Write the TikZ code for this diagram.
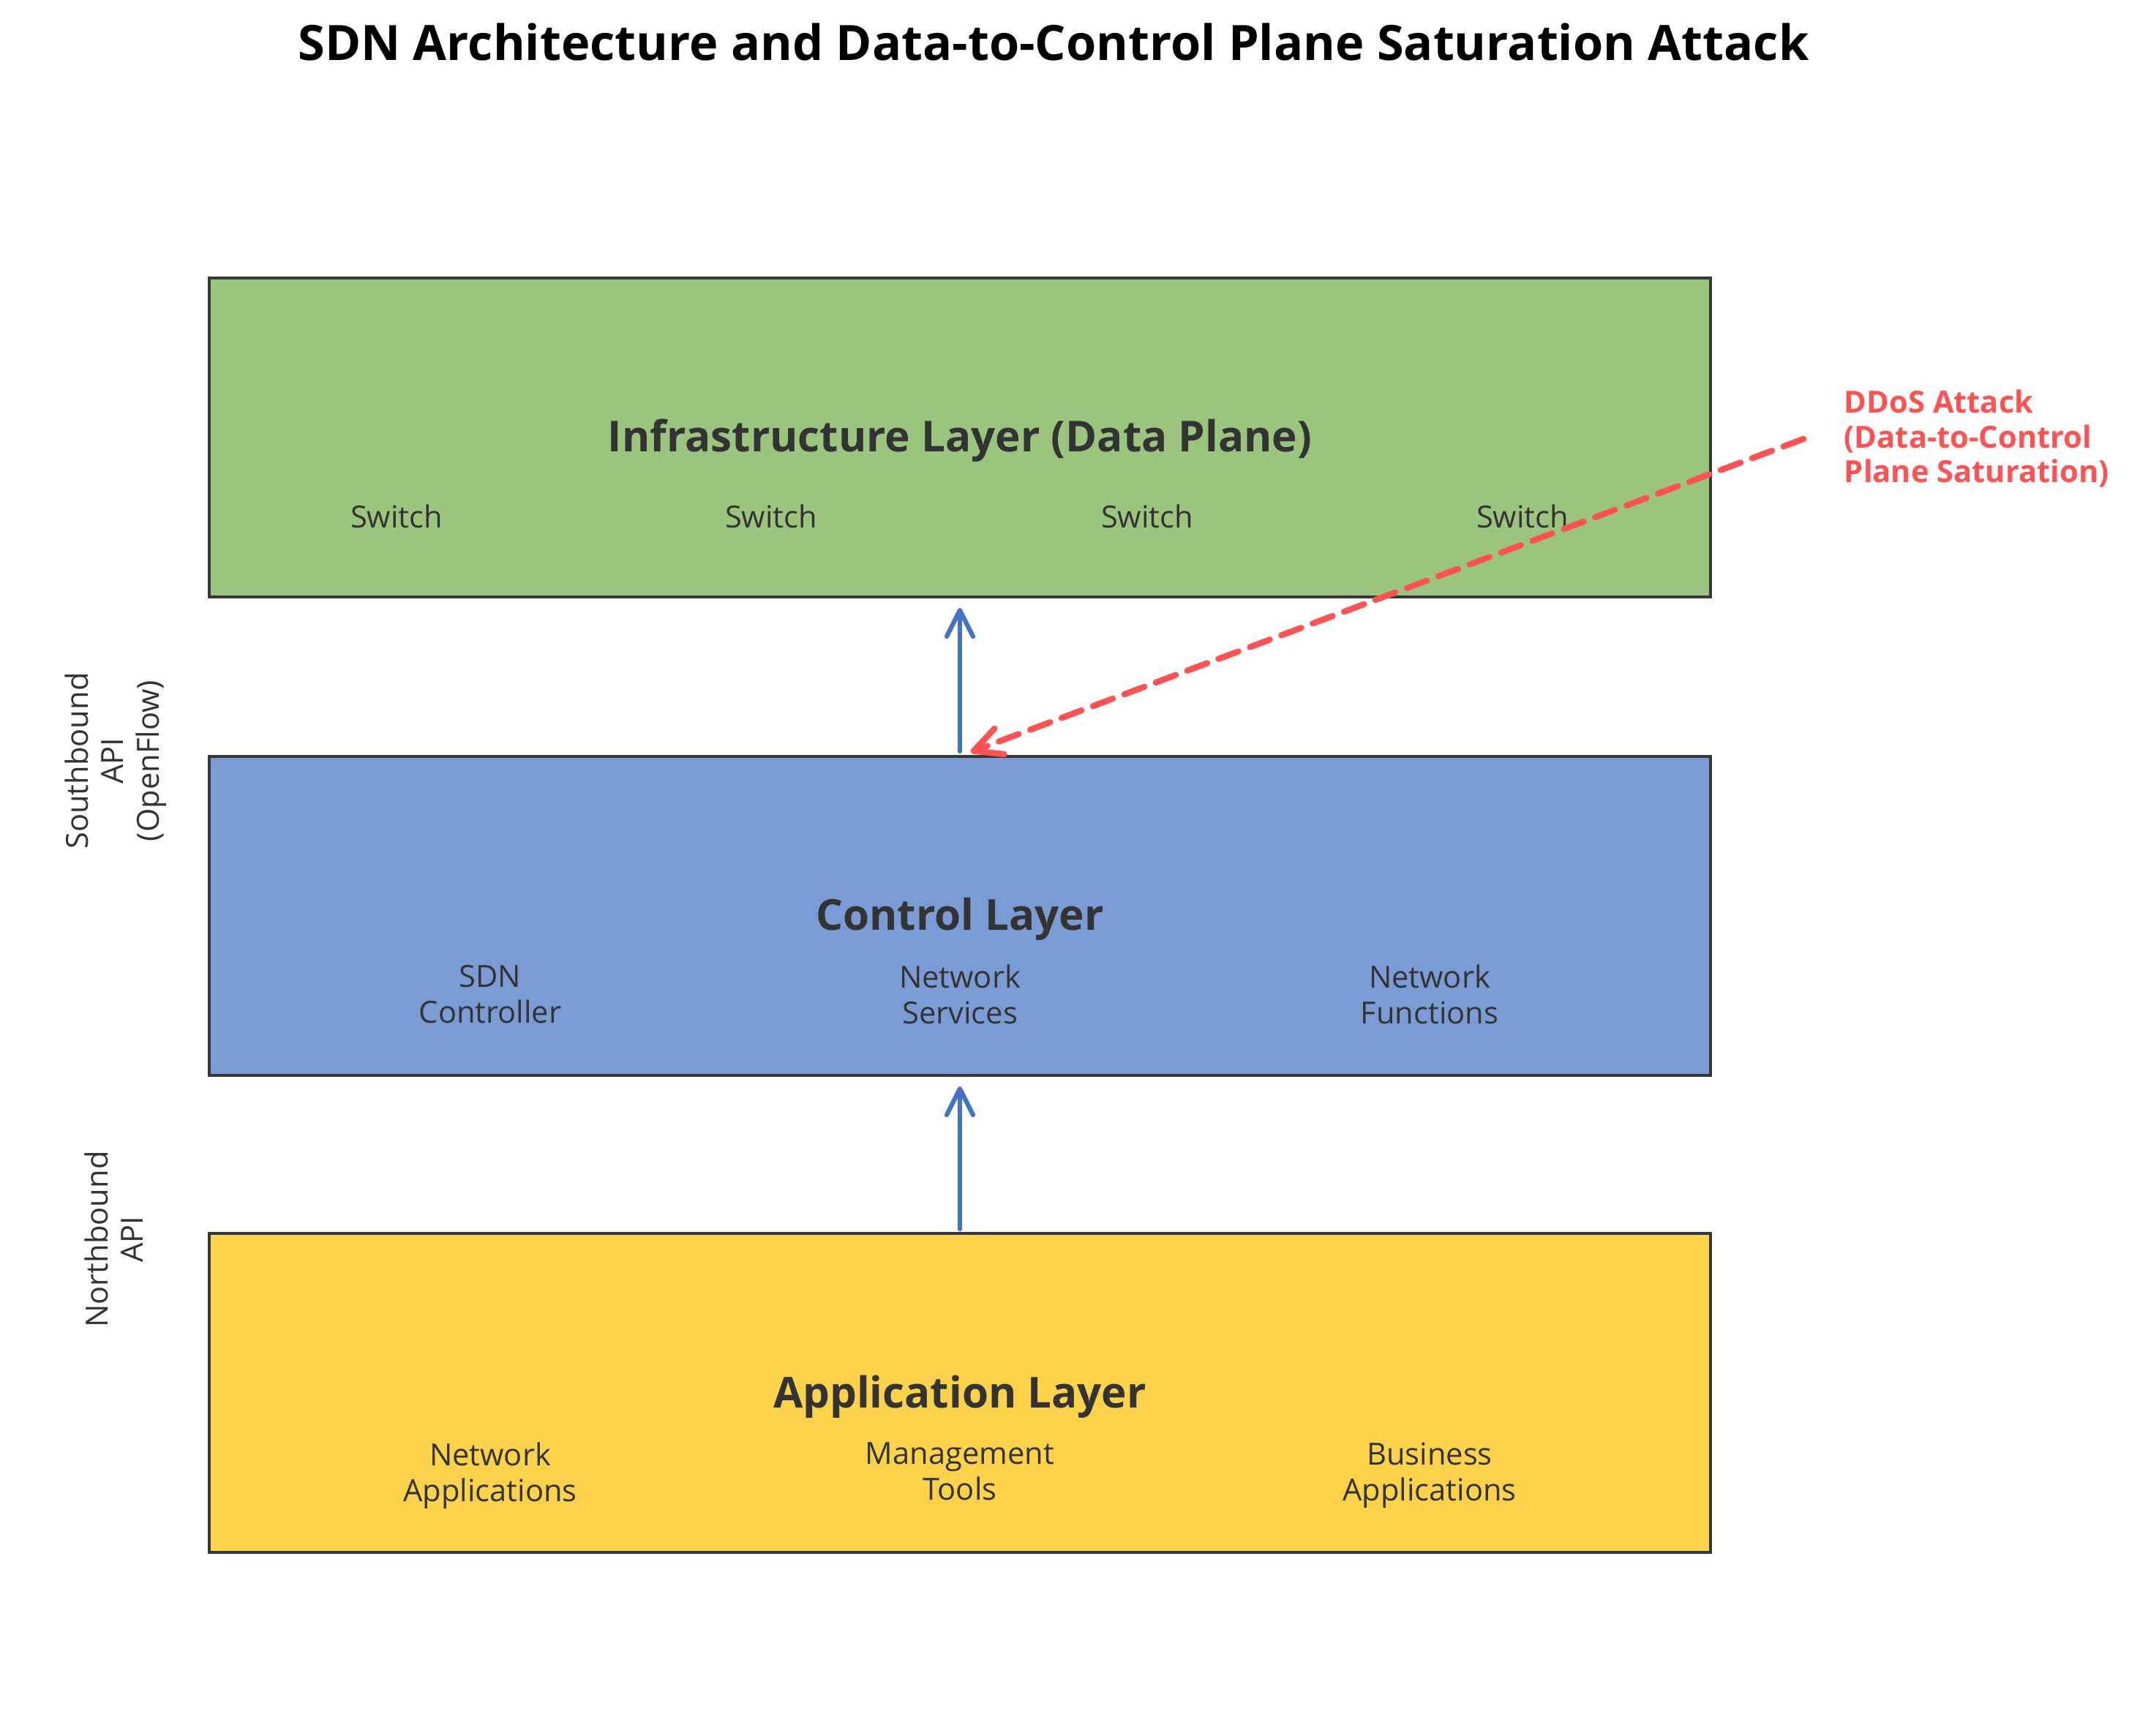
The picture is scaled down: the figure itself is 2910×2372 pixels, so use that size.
\documentclass[tikz,border=0pt]{standalone}
\usepackage{fontspec}
\IfFontExistsTF{Noto Sans Bold}
  {\setmainfont{Noto Sans}[BoldFont={Noto Sans Bold}]}
  {\setmainfont{Open Sans}}
\usetikzlibrary{arrows.meta}
\definecolor{infrafill}{HTML}{9BC57E}
\definecolor{ctrlfill}{HTML}{7B9BD4}
\definecolor{appfill}{HTML}{FDD24B}
\definecolor{boxline}{HTML}{383838}
\definecolor{txtdark}{HTML}{333333}
\definecolor{flowblue}{HTML}{4472C4}
\definecolor{attackred}{HTML}{FF5252}
\tikzset{
  layerbox/.style={draw=boxline, line width=1pt, minimum width=492.48pt, minimum height=104.64pt, inner sep=0pt, outer sep=0pt},
  layertitle/.style={anchor=base, inner sep=0pt, text=txtdark, font=\fontsize{14}{16.8}\selectfont\bfseries},
  item/.style={inner sep=0pt, text=txtdark, align=center, font=\fontsize{10}{11.8}\selectfont},
  sideitem/.style={inner sep=0pt, text=txtdark, align=center, rotate=90, font=\fontsize{10}{11.6}\selectfont},
  flow/.style={draw=flowblue, line width=1.5pt, line cap=round, -{Straight Barb[length=8.6pt, width=8.6pt, round]}},
  attack/.style={draw=attackred, line width=2pt, line cap=round, dash pattern=on 7pt off 4pt, -{Straight Barb[length=9pt, width=9pt, round]}},
}
\begin{document}
\begin{tikzpicture}[x=0.24pt, y=-0.24pt]
\useasboundingbox (0,0) rectangle (2910,2372);
% title
\node[anchor=base, inner sep=0pt, font=\fontsize{16}{19}\selectfont\bfseries] (title) at (1440,82) {SDN Architecture and Data-to-Control Plane Saturation Attack};
% layer boxes
\node[layerbox, fill=infrafill] (infra) at (1312,598) {};
\node[layerbox, fill=ctrlfill] (ctrl) at (1312,1252) {};
\node[layerbox, fill=appfill] (app) at (1312,1904) {};
% layer titles
\node[layertitle] (infratitle) at (1312,617) {Infrastructure Layer (Data Plane)};
\node[layertitle] (ctrltitle) at (1312,1271) {Control Layer};
\node[layertitle] (apptitle) at (1312,1924) {Application Layer};
% switches
\node[item, anchor=base] (sw1) at (542,721) {Switch};
\node[item, anchor=base] (sw2) at (1054,721) {Switch};
\node[item, anchor=base] (sw3) at (1568,721) {Switch};
\node[item, anchor=base] (sw4) at (2081,721) {Switch};
% control items
\node[item] (c1) at (670,1359) {SDN\\Controller};
\node[item] (c2) at (1312,1359) {Network\\Services};
\node[item] (c3) at (1954,1359) {Network\\Functions};
% application items
\node[item] (a1) at (670,2017) {Network\\Applications};
\node[item] (a2) at (1312,2011) {Management\\Tools};
\node[item] (a3) at (1954,2017) {Business\\Applications};
% side labels
\node[sideitem] (south) at (158,1040) {Southbound\\API\\(OpenFlow)};
\node[sideitem] (north) at (156,1694) {Northbound\\API};
% flows
\draw[flow, shorten <=1.68pt, shorten >=3.6pt] (ctrl.north) -- (infra.south);
\draw[flow, shorten <=1.44pt, shorten >=3.6pt] (app.north) -- (ctrl.south);
% attack
\node[anchor=north west, inner sep=0pt, align=left, text=attackred, font=\fontsize{10}{11.4}\selectfont\bfseries] (ddos) at (2520,532) {DDoS Attack\\(Data-to-Control\\Plane Saturation)};
\coordinate (atk) at (2465,600);
\draw[attack] (atk) -- ([xshift=3.6pt, yshift=1.44pt]ctrl.north);
\end{tikzpicture}
\end{document}
